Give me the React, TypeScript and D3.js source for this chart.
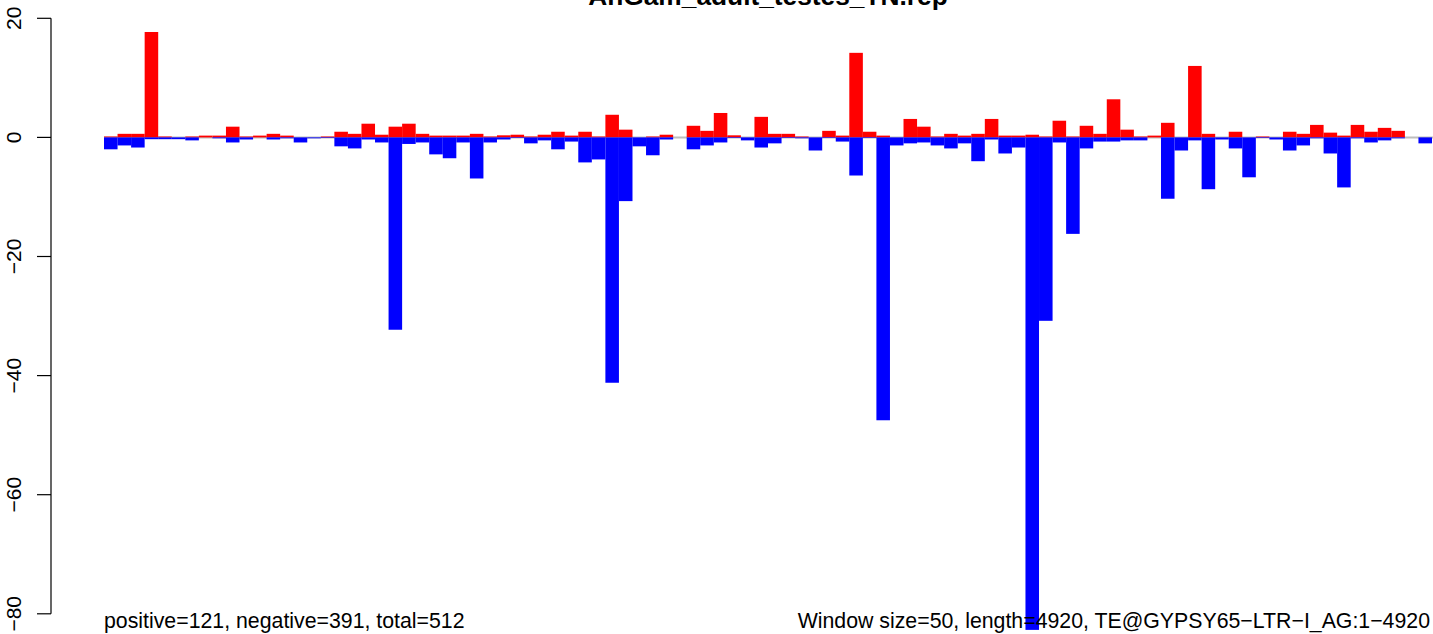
import React from "react";
import * as d3 from "d3";

const title = "AnGam_adult_testes_TN.rep";
const leftNote = "positive=121, negative=391, total=512";
const rightNote = "Window size=50, length=4920, TE@GYPSY65\u2212LTR\u2212I_AG:1\u22124920";
const yTicks = [20, 0, -20, -40, -60, -80];

const positive = [
  0.15, 0.6, 0.6, 17.7, 0.15, 0, 0.15, 0.3, 0.3, 1.8,
  0.15, 0.3, 0.6, 0.3, 0, 0, 0.15, 0.95, 0.6, 2.3,
  0.45, 1.8, 2.3, 0.6, 0.3, 0.3, 0.3, 0.6,
  0.15, 0.35, 0.45, 0.15, 0.45, 0.95, 0.3, 0.95, 0.15, 3.8,
  1.3, 0, 0.15, 0.45, 0, 1.95, 1.1, 4.1, 0.35, 0,
  3.45, 0.6, 0.6, 0.15, 0, 1.1, 0.3, 14.2, 0.95, 0.3,
  0, 3.1, 1.8, 0.15, 0.6,
  0.3, 0.6, 3.1, 0.3, 0.3, 0.45, 0.15, 2.8, 0.15, 1.95,
  0.6, 6.4, 1.3, 0.15, 0.3, 2.45, 0, 12.0, 0.6, 0,
  0.95, 0, 0.15, 0, 0.95, 0.6, 2.1, 0.8, 0.3, 2.1,
  0.95, 1.6, 1.1, 0, 0,
];

const negative = [
  -2.0, -1.35, -1.7, -0.3, -0.3, -0.3, -0.5, 0, -0.15, -0.85,
  -0.35, 0, -0.35, -0.15, -0.85, -0.15, -0.1, -1.5, -1.85, -0.35,
  -0.85, -32.3, -1.1, -0.85, -2.85, -3.5, -0.85, -6.9,
  -0.85, -0.35, -0.1, -1.0, -0.5, -2.0, -0.7, -4.2, -3.7, -41.2,
  -10.7, -1.5, -3.0, -0.35, 0, -2.0, -1.35, -0.85, -0.1, -0.5,
  -1.7, -1.0, -0.1, -0.15, -2.2, -0.1, -0.7, -6.4, -0.1, -47.5,
  -1.35, -1.0, -0.85, -1.35, -1.85,
  -1.0, -4.0, -0.35, -2.7, -1.7, -82.7, -30.8, -0.85, -16.2, -1.85,
  -0.7, -0.7, -0.5, -0.5, 0, -10.3, -2.2, -0.5, -8.7, -0.35,
  -1.85, -6.7, -0.1, -0.35, -2.2, -1.35, -0.15, -2.7, -8.4, -0.15,
  -0.85, -0.5, -0.15, 0, -1.0,
];

export default function App() {
  const W = 1433;
  const H = 634;
  const n = positive.length;
  const x = d3.scaleLinear().domain([0, n]).range([104, 1432]);
  const y = d3.scaleLinear().domain([-80, 20]).range([613.8, 18.3]);
  const font = "'Liberation Sans', Arial, Helvetica, sans-serif";
  const axisX = 51;
  return (
    <svg
      width={W}
      height={H}
      style={{ position: "absolute", left: 0, top: 0, background: "#fff" }}
      fontFamily={font}
    >
      <rect x={0} y={0} width={W} height={H} fill="#fff" />
      <line x1={x(0)} x2={W} y1={y(0)} y2={y(0)} stroke="#bebebe" strokeWidth={2} />
      {positive.map((v, i) =>
        v > 0 ? (
          <rect
            key={"p" + i}
            x={x(i)}
            width={x(i + 1) - x(i)}
            y={y(v)}
            height={y(0) - y(v)}
            fill="#ff0000"
          />
        ) : null
      )}
      {negative.map((v, i) =>
        v < 0 ? (
          <rect
            key={"n" + i}
            x={x(i)}
            width={x(i + 1) - x(i)}
            y={y(0)}
            height={y(v) - y(0)}
            fill="#0000ff"
          />
        ) : null
      )}
      <line x1={axisX} x2={axisX} y1={y(20)} y2={y(-80)} stroke="#000" strokeWidth={1.2} />
      {yTicks.map((t) => (
        <g key={t}>
          <line x1={axisX - 14} x2={axisX} y1={y(t)} y2={y(t)} stroke="#000" strokeWidth={1.2} />
          <text
            transform={`translate(21,${y(t)}) rotate(-90)`}
            textAnchor="middle"
            fontSize={21}
            fill="#000"
          >
            {t < 0 ? "\u2212" + Math.abs(t) : String(t)}
          </text>
        </g>
      ))}
      <text x={768} y={5} textAnchor="middle" fontSize={26.3} fontWeight="bold" fill="#000">
        {title}
      </text>
      <text x={104} y={628} fontSize={21.3} fill="#000">
        {leftNote}
      </text>
      <text x={1430} y={628} textAnchor="end" fontSize={21.3} fill="#000">
        {rightNote}
      </text>
    </svg>
  );
}
